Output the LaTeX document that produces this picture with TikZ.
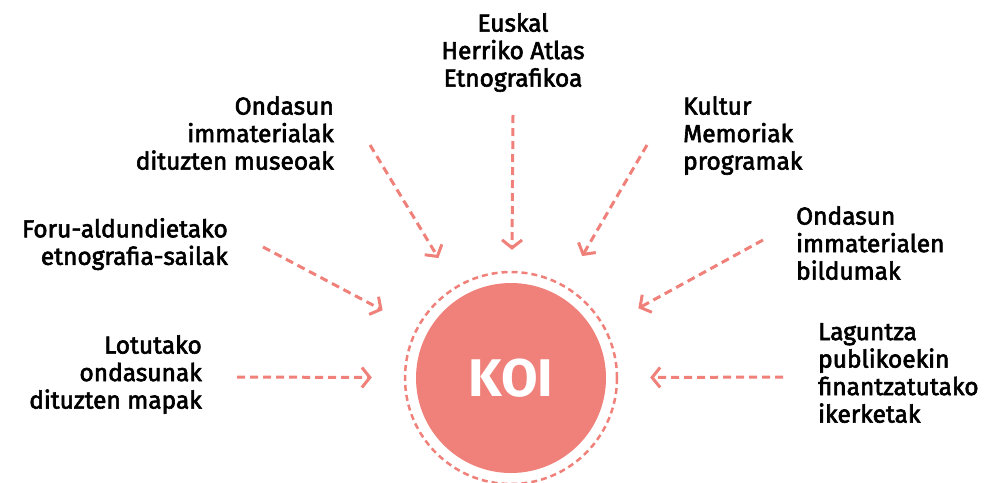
\documentclass[tikz,border=0pt]{standalone}
\usepackage{fontspec}
\setmainfont{Fira Sans}[FakeBold=2.5]
\newfontfamily\koifont{Fira Sans}
\usetikzlibrary{arrows.meta}
\definecolor{koired}{RGB}{240,128,122}

\begin{document}
\begin{tikzpicture}[x=1pt, y=-1pt,
    lbl/.style={inner sep=0pt, font=\fontsize{24.5}{27.5}\selectfont},
    lblL/.style={lbl, anchor=north west, align=left},
    lblR/.style={lbl, anchor=north east, align=right},
    lblC/.style={lbl, anchor=north, align=center},
    koi/.style={circle, fill=koired, minimum size=190pt, inner sep=0pt, text=white, font=\koifont\bfseries\fontsize{53}{60}\selectfont},
    ring/.style={circle, draw=koired, line width=2.5pt, dash pattern=on 6pt off 4pt, minimum size=212pt},
    arrow/.style={draw=koired, line width=3pt, dash pattern=on 8pt off 5pt, -{Straight Barb[length=8pt,width=20pt]}}
]
\useasboundingbox (0,0) rectangle (987,482);

% centre
\node[koi] (koi) at (511,378) {KOI};
\node[ring] (ring) at (koi) {};

% sources
\node[lblC] (atlas) at (513,13) {Euskal\\Herriko Atlas\\Etnografikoa};
\node[lblR] (museo) at (334,96) {Ondasun\\immaterialak\\dituzten museoak};
\node[lblL] (kultur) at (683,96) {Kultur\\Memoriak\\programak};
\node[lblR] (foru) at (228,218) {Foru-aldundietako\\etnografia-sailak};
\node[lblL] (bilduma) at (796,206) {Ondasun\\immaterialen\\bildumak};
\node[lblR] (mapa) at (202,335) {Lotutako\\ondasunak\\dituzten mapak};
\node[lblL] (ikerketa) at (818,323) {Laguntza\\publikoekin\\finantzatutako\\ikerketak};

% arrow starts
\coordinate (atlasS) at (513,115);
\coordinate (museoS) at (370,145);
\coordinate (kulturS) at (647,145);
\coordinate (foruS) at (263,247);
\coordinate (bildumaS) at (763,240);
\coordinate (mapaS) at (237,377);
\coordinate (ikerketaS) at (783,377);

\draw[arrow, shorten >=33pt] (atlasS) -- (koi);
\draw[arrow, shorten >=45pt] (museoS) -- (koi);
\draw[arrow, shorten >=46pt] (kulturS) -- (koi);
\draw[arrow, shorten >=50pt] (foruS) -- (koi);
\draw[arrow, shorten >=50pt] (bildumaS) -- (koi);
\draw[arrow, shorten >=44pt] (mapaS) -- (koi);
\draw[arrow, shorten >=44pt] (ikerketaS) -- (koi);
\end{tikzpicture}
\end{document}
